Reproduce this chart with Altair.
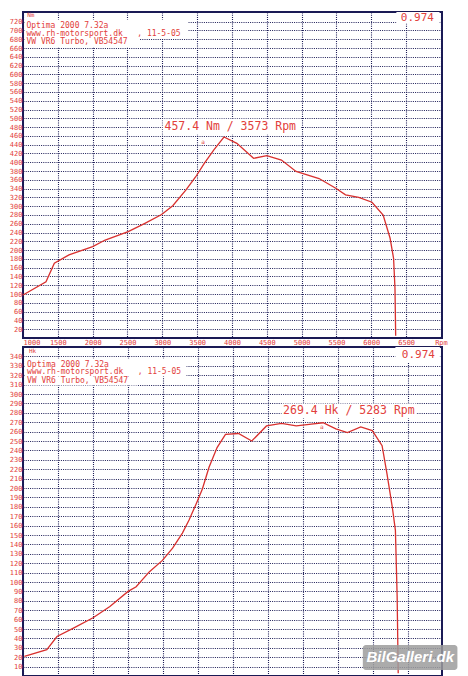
import altair as alt
import pandas as pd

# ---------------- data ----------------
torque_rpm = [1000, 1330, 1450, 1660, 2000, 2180, 2510, 2750, 2990, 3150, 3340, 3480,
              3600, 3740, 3885, 4070, 4310, 4500, 4710, 4920, 5250, 5490, 5630, 5820,
              6010, 6170, 6270, 6320, 6340, 6350]
torque_nm = [98, 128, 170, 189, 208, 223, 242, 261, 281, 301, 337, 367,
             397, 428, 457.4, 443, 409, 415, 405, 379, 363, 341, 326, 320,
             309, 280, 227, 181, 113, 5]

power_rpm = [1020, 1340, 1485, 1720, 2000, 2240, 2500, 2615, 2805, 2990, 3135, 3275,
             3370, 3465, 3560, 3655, 3770, 3890, 4075, 4265, 4475, 4690, 4900, 5115,
             5283, 5465, 5630, 5820, 5985, 6125, 6195, 6270, 6315, 6340, 6355]
power_hk = [21, 28, 42, 51, 62, 74, 90, 95, 111, 123, 136, 152,
            166, 182, 199, 222, 243, 257, 258, 250, 266, 268.8, 266, 268,
            269.4, 263, 259, 265, 261, 245, 215, 180, 155, 84, 3]

rpm_ticks = [1000, 1500, 2000, 2500, 3000, 3500, 4000, 4500, 5000, 5500, 6000, 6500, 7000]
torque_ticks = list(range(20, 740, 20))
power_ticks = list(range(10, 350, 10))

NB = "\u00a0"
header_lines = ["Optima 2000 7.32a",
                "www.rh-motorsport.dk" + NB * 3 + "," + NB + "11-5-05",
                "VW VR6 Turbo, VB54547"]
factor_text = ["0.974"]
torque_unit = ["Nm"]
power_unit = ["Hk"]
torque_peak_text = ["457.4 Nm / 3573 Rpm"]
power_peak_text = ["269.4 Hk / 5283 Rpm"]
peak_marker = ["a"]
watermark_text = ["BilGalleri.dk"]

# annotation anchors (data units: rpm, value)
t_header_rpm = [1050, 1050, 1050]
t_header_val = [711, 692, 673]
t_header_box_rpm = [1025, 1025]
t_header_box_rpm2 = [3370, 2680]
t_header_box_val = [682, 662]
t_header_box_val2 = [725, 682]
t_unit_pos = [1060, 736]
t_factor_pos = [6900, 729]
t_factor_box = [6360, 6980, 716, 742]
t_peak_pos = [3975, 481]
t_peak_box = [3005, 4990, 463, 499]
t_marker_pos = [3586, 447]

p_header_rpm = [1057, 1057, 1057]
p_header_val = [331, 323, 314]
p_header_box_rpm = [1028, 1028]
p_header_box_rpm2 = [3332, 2640]
p_header_box_val = [318.5, 309]
p_header_box_val2 = [337.6, 318.5]
p_unit_pos = [1085, 346]
p_factor_pos = [6880, 342]
p_factor_box = [6315, 6950, 334, 350]
p_peak_pos = [5651, 281.7]
p_peak_box = [4690, 6612, 274, 290]
p_marker_pos = [5265, 265]
p_wm_pos = [6527, 20]
p_wm_box = [5850, 7200, 6.5, 33]

RED = "#e2403b"
LINE_RED = "#d8302e"
NAVY = "#1a1a55"
MONO = "DejaVu Sans Mono"


def panel(c_rpm, c_val, xdom, ydom, yticks, width, height,
          h_rpm, h_val, hb_rpm, hb_rpm2, hb_val, hb_val2,
          unit, unit_pos, factor_pos, factor_box, peak_text, peak_pos, peak_box,
          marker_pos, extra=None):
    x_enc = alt.X("rpm:Q", title=None,
                  scale=alt.Scale(domain=xdom, nice=False, zero=False),
                  axis=alt.Axis(values=rpm_ticks, format="d",
                                labelExpr="datum.value == 7000 ? 'Rpm' : datum.label",
                                grid=True, gridColor=NAVY, gridDash=[1, 1.2], gridWidth=1.1,
                                gridOpacity=1, ticks=False, domain=False,
                                labelColor=RED, labelFont=MONO, labelFontSize=7,
                                labelPadding=0))
    y_enc = alt.Y("val:Q", title=None,
                  scale=alt.Scale(domain=ydom, nice=False, zero=False),
                  axis=alt.Axis(values=yticks, format="d",
                                grid=True, gridColor=NAVY, gridDash=[1, 1.2], gridWidth=1,
                                gridOpacity=1, ticks=False, domain=False,
                                labelColor=RED, labelFont=MONO, labelFontSize=7,
                                labelPadding=1))

    curve = pd.DataFrame({"rpm": c_rpm, "val": c_val})
    boxes = pd.DataFrame({"rpm": hb_rpm + [factor_box[0], peak_box[0]],
                          "rpm2": hb_rpm2 + [factor_box[1], peak_box[1]],
                          "val": hb_val + [factor_box[2], peak_box[2]],
                          "val2": hb_val2 + [factor_box[3], peak_box[3]]})
    header = pd.DataFrame({"rpm": h_rpm, "val": h_val, "label": header_lines})

    box_layer = alt.Chart(boxes).mark_rect(color="white").encode(
        x=x_enc, x2="rpm2:Q", y=y_enc, y2="val2:Q")
    line_layer = alt.Chart(curve).mark_line(color=LINE_RED, strokeWidth=1.3).encode(
        x=x_enc, y=y_enc)
    header_layer = alt.Chart(header).mark_text(
        align="left", baseline="middle", font=MONO, fontSize=8, color=RED).encode(
        x=x_enc, y=y_enc, text="label:N")
    unit_layer = alt.Chart(pd.DataFrame({"rpm": [unit_pos[0]], "val": [unit_pos[1]], "label": unit})).mark_text(
        align="left", baseline="middle", font=MONO, fontSize=6, color=RED).encode(
        x=x_enc, y=y_enc, text="label:N")
    factor_layer = alt.Chart(pd.DataFrame({"rpm": [factor_pos[0]], "val": [factor_pos[1]], "label": factor_text})).mark_text(
        align="right", baseline="middle", font=MONO, fontSize=11, color=RED).encode(
        x=x_enc, y=y_enc, text="label:N")
    peak_layer = alt.Chart(pd.DataFrame({"rpm": [peak_pos[0]], "val": [peak_pos[1]], "label": peak_text})).mark_text(
        align="center", baseline="middle", font=MONO, fontSize=11.5, color=RED).encode(
        x=x_enc, y=y_enc, text="label:N")
    marker_layer = alt.Chart(pd.DataFrame({"rpm": [marker_pos[0]], "val": [marker_pos[1]], "label": peak_marker})).mark_text(
        align="center", baseline="middle", font=MONO, fontSize=6, color=RED).encode(
        x=x_enc, y=y_enc, text="label:N")

    layers = [box_layer, line_layer, header_layer, unit_layer, factor_layer, peak_layer, marker_layer]
    if extra is not None:
        wm_pos, wm_box = extra
        wm_rect = alt.Chart(pd.DataFrame({"rpm": [wm_box[0]], "rpm2": [wm_box[1]],
                                          "val": [wm_box[2]], "val2": [wm_box[3]]})).mark_rect(
            color="#9c9c9c", opacity=0.85, cornerRadius=3).encode(
            x=x_enc, x2="rpm2:Q", y=y_enc, y2="val2:Q")
        wm_text = alt.Chart(pd.DataFrame({"rpm": [wm_pos[0]], "val": [wm_pos[1]], "label": watermark_text})).mark_text(
            align="center", baseline="middle", font="Liberation Sans", fontSize=15,
            fontWeight="bold", fontStyle="italic", color="white").encode(
            x=x_enc, y=y_enc, text="label:N")
        layers += [wm_rect, wm_text]
    return alt.layer(*layers).properties(width=width, height=height)


top = panel(torque_rpm, torque_nm, [1000, 7015], [0, 742], torque_ticks, 419, 326,
            t_header_rpm, t_header_val, t_header_box_rpm, t_header_box_rpm2,
            t_header_box_val, t_header_box_val2,
            torque_unit, t_unit_pos, t_factor_pos, t_factor_box,
            torque_peak_text, t_peak_pos, t_peak_box, t_marker_pos)

bottom = panel(power_rpm, power_hk, [1000, 6980], [0, 350], power_ticks, 419, 329,
               p_header_rpm, p_header_val, p_header_box_rpm, p_header_box_rpm2,
               p_header_box_val, p_header_box_val2,
               power_unit, p_unit_pos, p_factor_pos, p_factor_box,
               power_peak_text, p_peak_pos, p_peak_box, p_marker_pos,
               extra=(p_wm_pos, p_wm_box))

chart = alt.vconcat(top, bottom, spacing=0).properties(
    padding={"left": 0, "top": 2, "right": 0, "bottom": 0}
).configure(background="white").configure_view(stroke=NAVY, strokeWidth=2)

chart.save("out.html", embed_options={"renderer": "svg", "actions": False})
